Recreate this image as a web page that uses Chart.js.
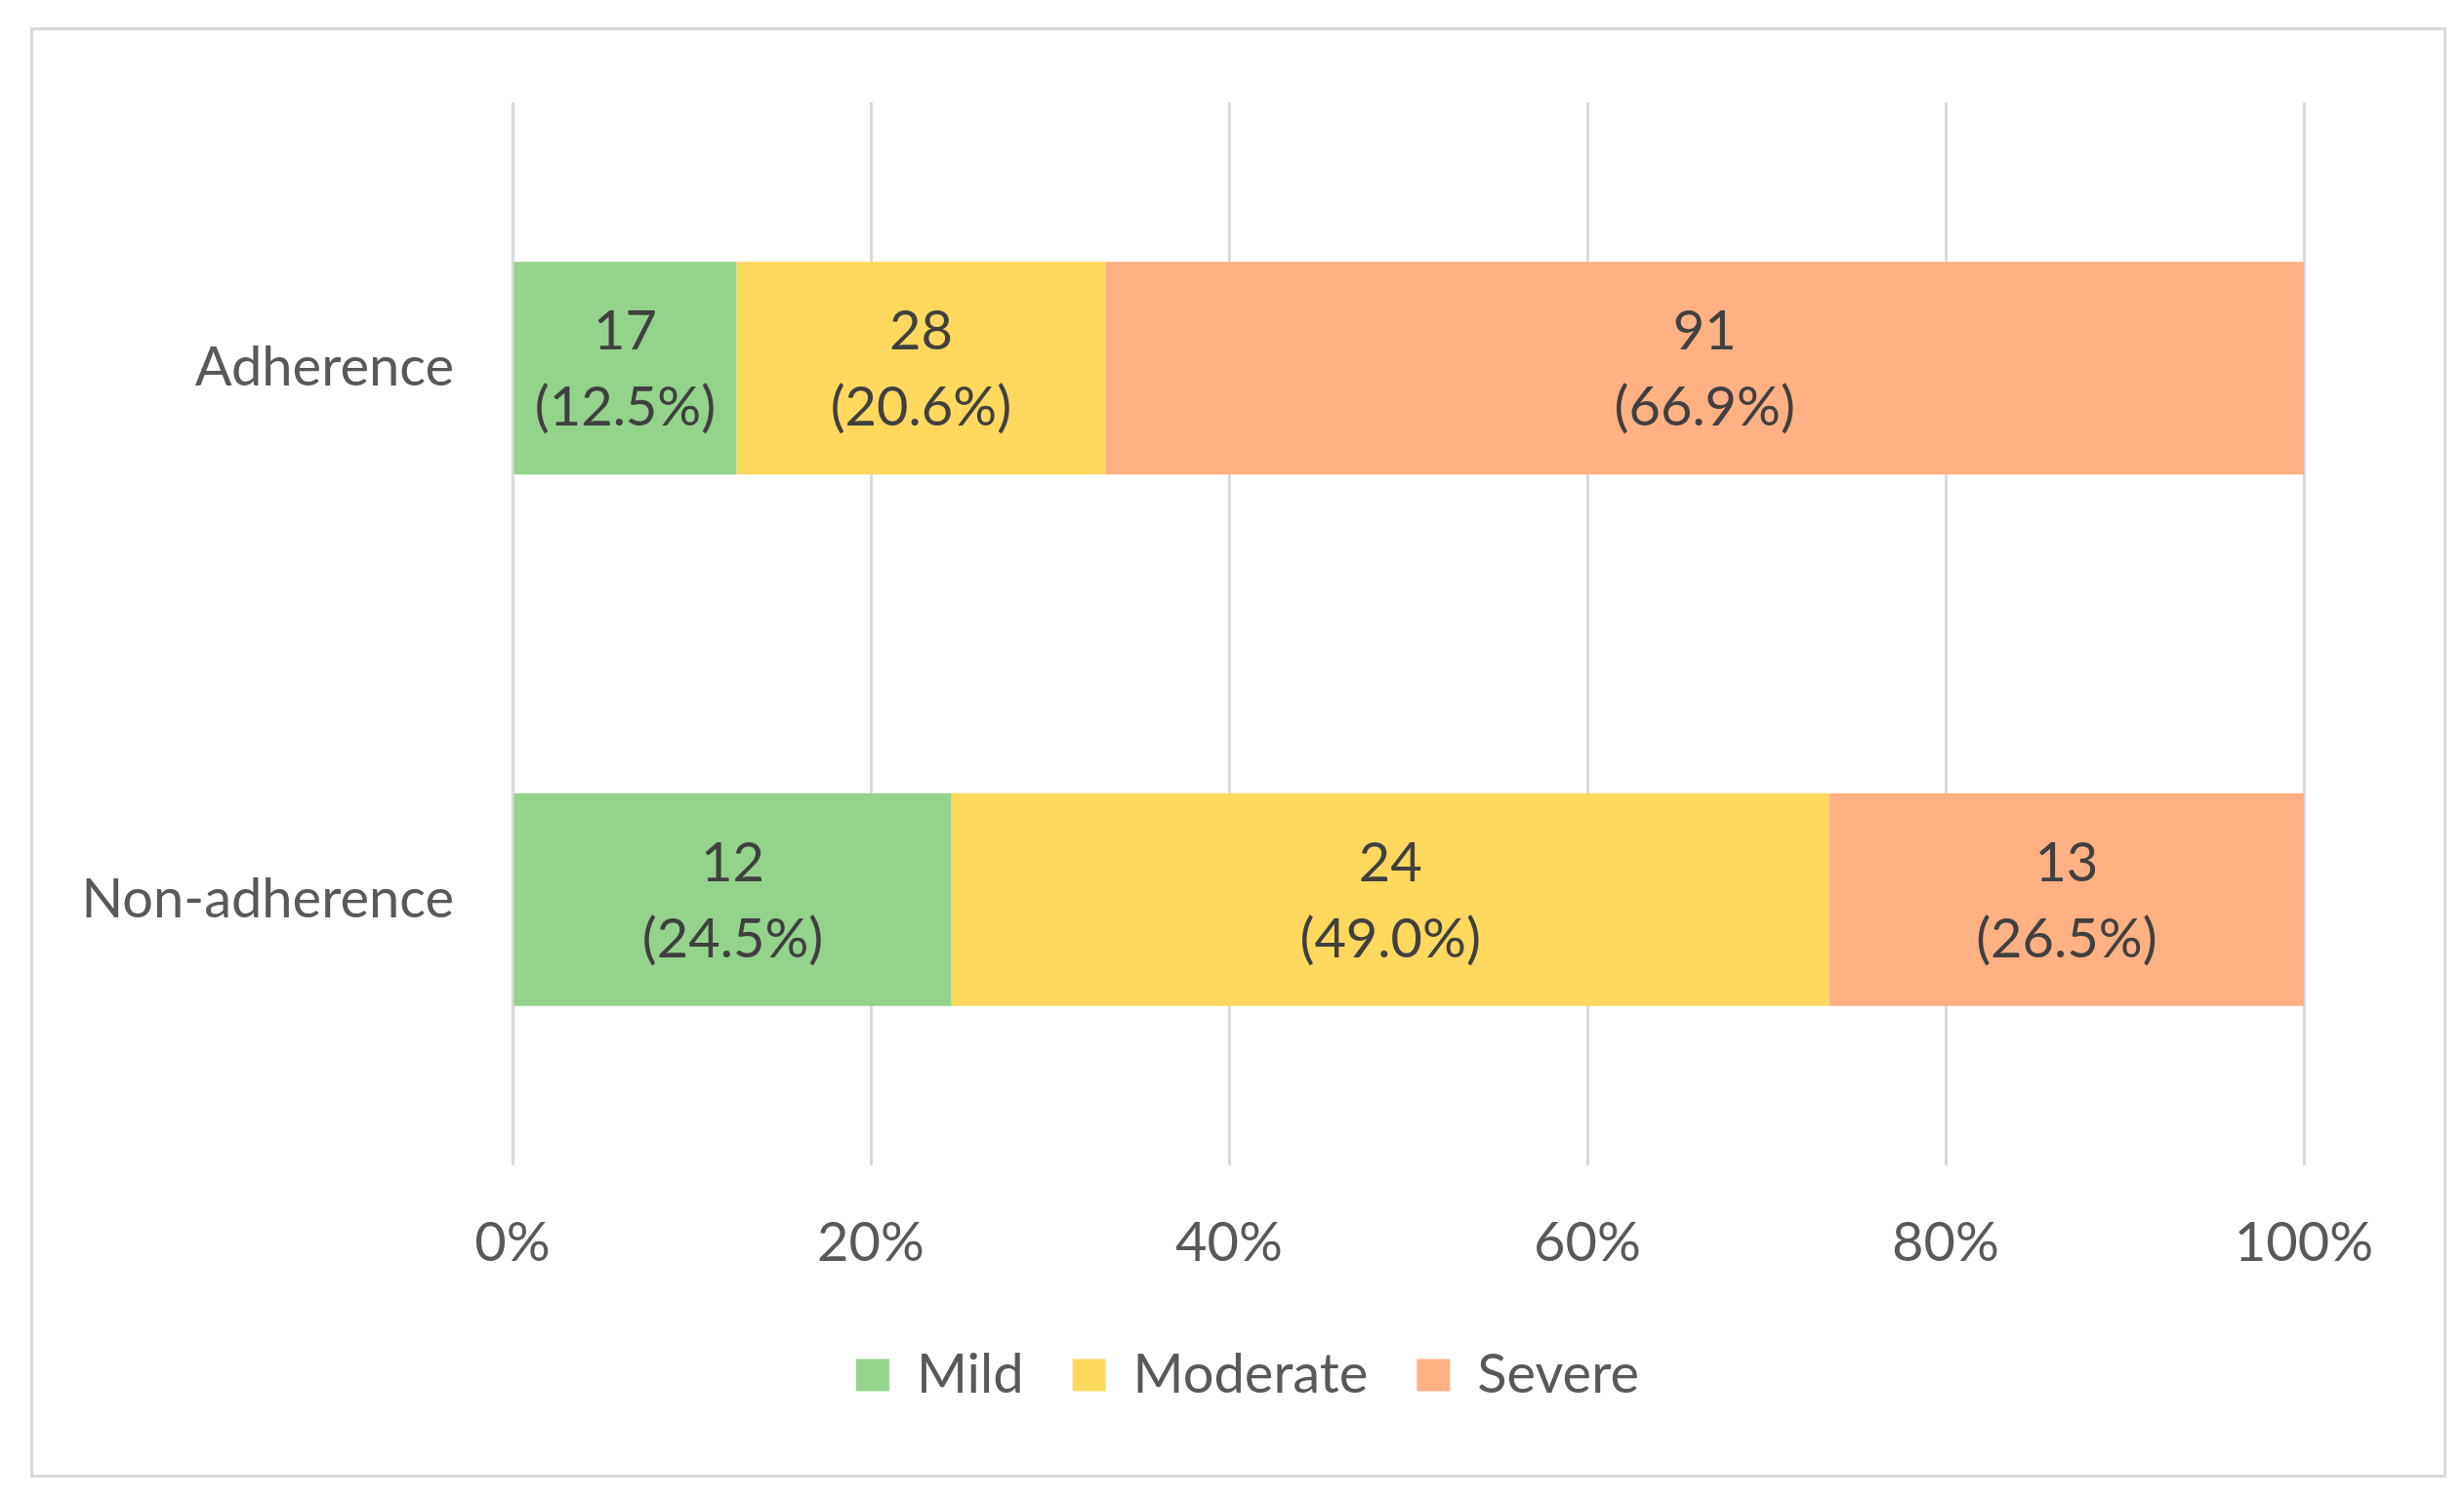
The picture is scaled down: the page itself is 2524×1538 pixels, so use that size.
<!DOCTYPE html>
<html>
<head>
<meta charset="utf-8">
<script src="https://cdn.jsdelivr.net/npm/chart.js@4"></script>
<style>
  body { margin: 0; background: #fff; }
  #frame { position: absolute; left: 31px; top: 28px; width: 2475px; height: 1486px;
           box-sizing: border-box; border: 3px solid #d9d9d9; }
  #chart { position: absolute; left: 0; top: 0; }
</style>
</head>
<body>
<div id="frame"></div>
<canvas id="chart" width="2524" height="1538"></canvas>
<script>
const groups = ["Adherence", "Non-adherence"];
const seriesNames = ["Mild", "Moderate", "Severe"];
const mildCounts = [17, 12];
const moderateCounts = [28, 24];
const severeCounts = [91, 13];
const mildPct = [12.5, 24.5];
const moderatePct = [20.6, 49.0];
const severePct = [66.9, 26.5];
const xTicks = [0, 20, 40, 60, 80, 100];

const textFont = "Lato, 'Open Sans', sans-serif";
const textSize = 56;

// count on top, share in brackets below, centred in each segment
const segmentLabels = {
  id: "segmentLabels",
  afterDatasetsDraw(chart) {
    const ctx = chart.ctx;
    ctx.save();
    ctx.font = textSize + "px " + textFont;
    ctx.fillStyle = "#404040";
    ctx.textAlign = "center";
    ctx.textBaseline = "middle";
    chart.data.datasets.forEach((ds, i) => {
      chart.getDatasetMeta(i).data.forEach((bar, j) => {
        const cx = (bar.x + bar.base) / 2;
        ctx.fillText(String(ds.counts[j]), cx, bar.y - 37);
        ctx.fillText("(" + ds.data[j].toFixed(1) + "%)", cx, bar.y + 41);
      });
    });
    ctx.restore();
  },
};

new Chart(document.getElementById("chart"), {
  type: "bar",
  data: {
    labels: groups,
    datasets: [
      { label: seriesNames[0], data: mildPct, counts: mildCounts, backgroundColor: "#93d38b" },
      { label: seriesNames[1], data: moderatePct, counts: moderateCounts, backgroundColor: "#ffd85e" },
      { label: seriesNames[2], data: severePct, counts: severeCounts, backgroundColor: "#ffb184" },
    ],
  },
  plugins: [segmentLabels],
  options: {
    indexAxis: "y",
    responsive: false,
    devicePixelRatio: 1,
    animation: false,
    events: [],
    categoryPercentage: 1,
    barPercentage: 0.4,
    layout: { padding: { top: 105, right: 8, left: 40, bottom: 91 } },
    plugins: {
      tooltip: { enabled: false },
      legend: {
        position: "bottom",
        labels: {
          color: "#595959",
          font: { family: textFont, size: textSize },
          boxWidth: 34,
          boxHeight: 33,
          padding: 50,
        },
      },
    },
    scales: {
      x: {
        stacked: true,
        min: 0,
        max: 100,
        afterBuildTicks: (scale) => {
          scale.ticks = xTicks.map((v) => ({ value: v }));
        },
        afterFit: (scale) => {
          scale.height = 137;
        },
        ticks: {
          callback: (v) => v + "%",
          color: "#595959",
          font: { family: textFont, size: textSize },
          padding: 46,
          maxRotation: 0,
        },
        grid: { color: "#d9d9d9", lineWidth: 3, drawTicks: false },
        border: { display: false },
      },
      y: {
        stacked: true,
        afterFit: (scale) => {
          scale.width = 485;
        },
        ticks: {
          color: "#595959",
          font: { family: textFont, size: textSize },
          padding: 52,
        },
        grid: { display: false },
        border: { display: false },
      },
      // empty right margin so the plot ends at 100% while the legend stays centred
      yRight: {
        type: "linear",
        position: "right",
        afterFit: (scale) => {
          scale.width = 156;
        },
        ticks: { display: false },
        grid: { display: false },
        border: { display: false },
      },
    },
  },
});
</script>
</body>
</html>
